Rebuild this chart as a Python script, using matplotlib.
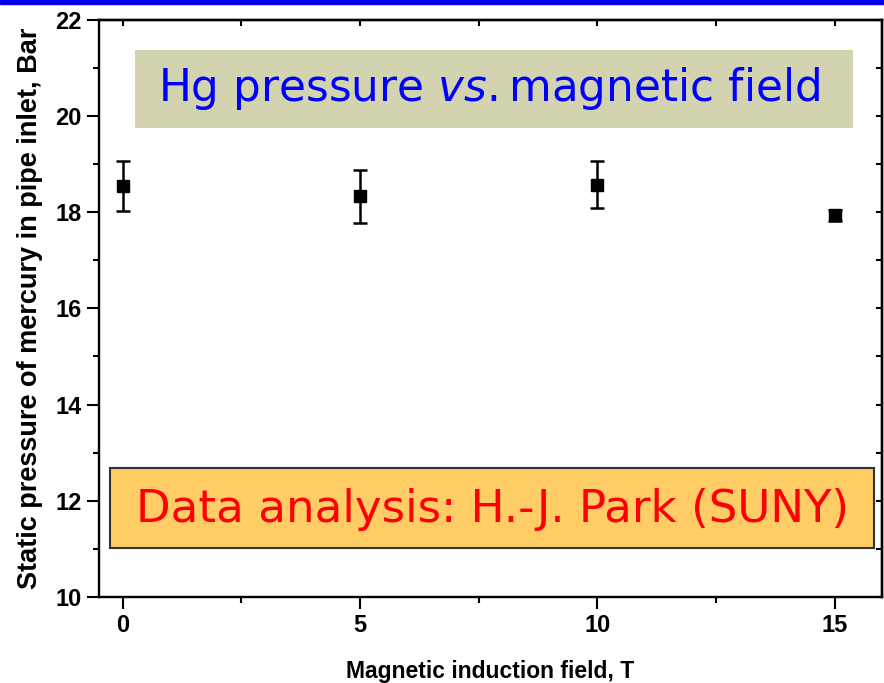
import matplotlib
matplotlib.use('Agg')
import matplotlib.pyplot as plt
from matplotlib.patches import Rectangle

# Data
field = [0, 5, 10, 15]
pressure = [18.55, 18.33, 18.57, 17.93]
pressure_err = [0.52, 0.55, 0.48, 0.12]

x_ticks = [0, 5, 10, 15]
x_minor = [2.5, 7.5, 12.5]
y_ticks = [10, 12, 14, 16, 18, 20, 22]
y_minor = [11, 13, 15, 17, 19, 21]

plt.rcParams['mathtext.fontset'] = 'custom'
plt.rcParams['mathtext.it'] = 'DejaVu Sans:italic'
plt.rcParams['mathtext.rm'] = 'DejaVu Sans'

fig = plt.figure(figsize=(8.84, 6.83), dpi=100)
ax = fig.add_axes([0.112, 0.1259, 0.8857, 0.8455])

ax.errorbar(field, pressure, yerr=pressure_err, fmt='s', color='black',
            markersize=8, capsize=5, elinewidth=1.8, capthick=1.8)

ax.set_xlim(-0.5, 16)
ax.set_ylim(10, 22)
ax.set_xticks(x_ticks)
ax.set_xticks(x_minor, minor=True)
ax.set_yticks(y_ticks)
ax.set_yticks(y_minor, minor=True)

lab_font = {'family': 'Liberation Sans', 'weight': 'bold', 'size': 17}
ax.set_xticklabels([str(v) for v in x_ticks], fontdict=lab_font)
ax.set_yticklabels([str(v) for v in y_ticks], fontdict=lab_font)
ax.tick_params(which='major', direction='out', length=8.5, width=1.5, top=False, right=False, pad=4)
ax.tick_params(which='minor', direction='out', length=4, width=1.5, top=False, right=False)

# top and right axes carry short inward ticks without labels
top = ax.secondary_xaxis('top')
top.set_xticks(x_ticks)
top.set_xticks(x_minor, minor=True)
top.tick_params(which='both', direction='in', labeltop=False, width=1.5, length=4)
right = ax.secondary_yaxis('right')
right.set_yticks(y_ticks)
right.set_yticks(y_minor, minor=True)
right.tick_params(which='both', direction='in', labelright=False, width=1.5, length=4)

for sp in ax.spines.values():
    sp.set_linewidth(1.7)
top.spines['top'].set_linewidth(1.7)
right.spines['right'].set_linewidth(1.7)

ax.set_xlabel('Magnetic induction field, T', family='Liberation Sans',
              weight='bold', size=16.5, labelpad=16)
ax.set_ylabel('Static pressure of mercury in pipe inlet, Bar', family='Liberation Sans',
              weight='bold', size=19.5, labelpad=9)

# blue strip across the top of the slide
fig.patches.append(Rectangle((0, 1 - 4 / 683), 1, 4 / 683, transform=fig.transFigure,
                             color='#0000ee', zorder=5))

# title box
fig.patches.append(Rectangle((0.1527, 0.8126), 0.812, 0.1142, transform=fig.transFigure,
                             facecolor='#d3d3b0', edgecolor='none', zorder=3))
fig.text(0.553, 0.8697, r'Hg pressure $\mathit{vs.}$magnetic field', color='#0000ff',
         family='DejaVu Sans', size=31.5, ha='center', va='center', zorder=4)

# credit box
fig.patches.append(Rectangle((0.1244, 0.1977), 0.8643, 0.1171, transform=fig.transFigure,
                             facecolor='#ffcc66', edgecolor='#333333', linewidth=1.5, zorder=3))
fig.text(0.557, 0.2533, 'Data analysis: H.-J. Park (SUNY)', color='#ff0000',
         family='DejaVu Sans', size=32.5, ha='center', va='center', zorder=4)

fig.savefig('out.png', dpi=100)
